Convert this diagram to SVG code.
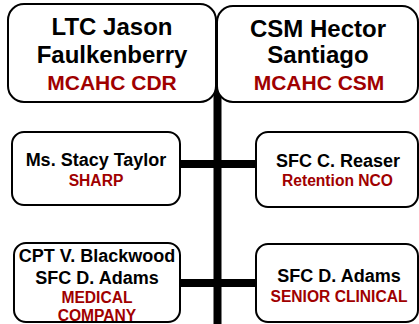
<svg xmlns="http://www.w3.org/2000/svg" width="419" height="324" viewBox="0 0 419 324">
<style>
.box{fill:#fff;stroke:#000;stroke-width:2}
.t{font-family:"Liberation Sans",Arial,sans-serif;font-weight:bold;text-anchor:middle;fill:#000}
.big{font-size:24px}
.mid{font-size:18px}
.red{fill:#A00000}
.rbig{font-size:21px}
.rsm{font-size:15.6px}
.c{stroke:#000;fill:none}
</style>
<rect width="419" height="324" fill="#fff"/>
<g id="connectors">
<line class="c" x1="217.5" y1="60" x2="217.5" y2="92" stroke-width="4"/>
<line class="c" x1="217.5" y1="90" x2="217.5" y2="324" stroke-width="8"/>
<line class="c" x1="180" y1="164" x2="256" y2="164" stroke-width="8"/>
<line class="c" x1="180" y1="283" x2="256" y2="283" stroke-width="8"/>
</g>
<g id="node-ltc">
<rect class="box" x="8" y="4" width="208" height="98" rx="16"/>
<text class="t big" x="112" y="35">LTC Jason</text>
<text class="t big" x="112" y="63">Faulkenberry</text>
<text class="t red rbig" x="112" y="90">MCAHC CDR</text>
</g>
<g id="node-csm">
<rect class="box" x="217" y="6" width="201" height="96" rx="16"/>
<text class="t big" x="318" y="37">CSM Hector</text>
<text class="t big" x="318" y="63">Santiago</text>
<text class="t red rbig" x="319" y="90">MCAHC CSM</text>
</g>
<g id="node-sharp">
<rect class="box" x="12" y="132" width="168" height="73" rx="12"/>
<text class="t mid" x="96" y="166">Ms. Stacy Taylor</text>
<text class="t red rsm" x="96" y="186">SHARP</text>
</g>
<g id="node-retention">
<rect class="box" x="256" y="132" width="162" height="75" rx="12"/>
<text class="t mid" x="338" y="166.5">SFC C. Reaser</text>
<text class="t red rsm" x="337.5" y="186">Retention NCO</text>
</g>
<g id="node-medical">
<rect class="box" x="14" y="243" width="166" height="79" rx="12"/>
<text class="t mid" x="97" y="261.5">CPT V. Blackwood</text>
<text class="t mid" x="97" y="284">SFC D. Adams</text>
<text class="t red rsm" x="97" y="302.5">MEDICAL</text>
<text class="t red rsm" x="97" y="321">COMPANY</text>
</g>
<g id="node-clinical">
<rect class="box" x="256" y="244" width="162" height="78" rx="12"/>
<text class="t mid" x="339" y="281.5">SFC D. Adams</text>
<text class="t red rsm" x="339" y="301.5">SENIOR CLINICAL</text>
</g>
</svg>
